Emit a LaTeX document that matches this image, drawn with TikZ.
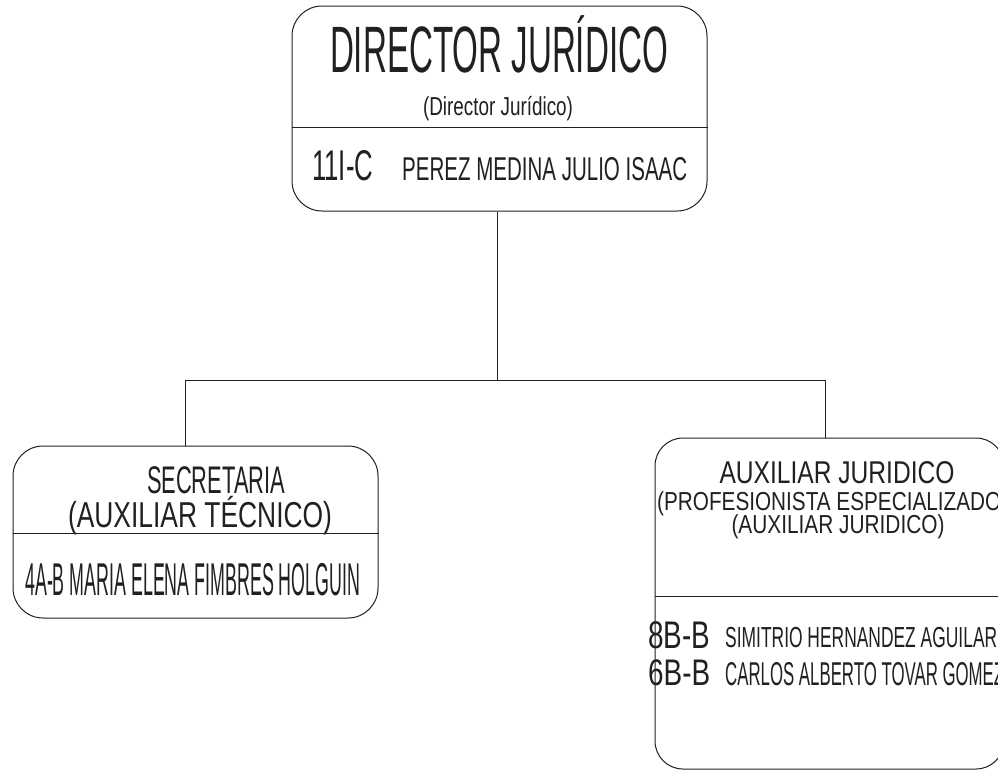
\documentclass[tikz,border=0pt]{standalone}
\usepackage{fontspec}
\setmainfont{Liberation Sans}
\usepackage{graphicx}
\definecolor{ink}{HTML}{231F20}
\newcommand\fitw[3]{{\fontsize{#1}{#1}\selectfont\resizebox{#2pt}{\height}{#3}}}
\begin{document}
\begin{tikzpicture}[x=1pt,y=-1pt,
  box/.style={draw=ink, line width=1pt, rectangle, rounded corners=30pt, inner sep=0pt},
  conn/.style={draw=ink, line width=1pt},
  lbl/.style={inner sep=0pt, text=ink}]
\useasboundingbox (0,0) rectangle (998,769);
\clip (0,0) rectangle (998,769);
% boxes
\node[box, minimum width=415pt, minimum height=205pt] (dir) at (499.5,108.5) {};
\node[box, minimum width=365pt, minimum height=172pt] (sec) at (195.5,532) {};
\node[box, minimum width=349pt, minimum height=331pt, rounded corners=28pt] (aux) at (829.5,603.5) {};
% dividers
\draw[conn] (dir.west |- 0,127) -- (dir.east |- 0,127);
\draw[conn] (sec.west |- 0,533) -- (sec.east |- 0,533);
\draw[conn] (aux.west |- 0,596) -- (aux.east |- 0,596);
% connectors
\coordinate (jn) at (497,380);
\draw[conn] ([xshift=-2.5pt]dir.south) -- ([xshift=-2.5pt]dir.south |- jn);
\draw[conn] ([xshift=-10.5pt]sec.north) -- ([xshift=-10.5pt]sec.north |- jn)
  -- ([xshift=-4.5pt]aux.north |- jn) -- ([xshift=-4.5pt]aux.north);
% texts top
\node[lbl, anchor=base] (t1) at (499,72) {\fitw{65.6}{338}{DIRECTOR JURÍDICO}};
\node[lbl, anchor=base] (t2) at (498,115) {\fitw{26}{150}{(Director Jurídico)}};
\node[lbl, anchor=base west] (t3) at (312,180) {\fitw{43}{61}{11I-C}};
\node[lbl, anchor=base west] (t4) at (402,180) {\fitw{33}{285}{PEREZ MEDINA JULIO ISAAC}};
% texts left
\node[lbl, anchor=base] (s1) at (216,493) {\fitw{38.5}{138}{SECRETARIA}};
\node[lbl, anchor=base] (s2) at (200,527) {\fitw{36}{264}{(AUXILIAR TÉCNICO)}};
\node[lbl, anchor=base west] (s3) at (25,595) {\fitw{46}{335}{4A-B MARIA ELENA FIMBRES HOLGUIN}};
% texts right
\node[lbl, anchor=base] (a1) at (837,483) {\fitw{31.5}{235}{AUXILIAR JURIDICO}};
\node[lbl, anchor=base west] (a2) at (657,510) {\fitw{26}{344}{(PROFESIONISTA ESPECIALIZADO}};
\node[lbl, anchor=base] (a3) at (838,533) {\fitw{26}{213}{(AUXILIAR JURIDICO)}};
\node[lbl, anchor=base west] (a4) at (648,648) {\fitw{38.5}{62}{8B-B}};
\node[lbl, anchor=base west] (a5) at (725,647) {\fitw{29}{272}{SIMITRIO HERNANDEZ AGUILAR}};
\node[lbl, anchor=base west] (a6) at (648,685) {\fitw{37}{62}{6B-B}};
\node[lbl, anchor=base west] (a7) at (725,685) {\fitw{33}{279}{CARLOS ALBERTO TOVAR GOMEZ}};
\end{tikzpicture}
\end{document}
